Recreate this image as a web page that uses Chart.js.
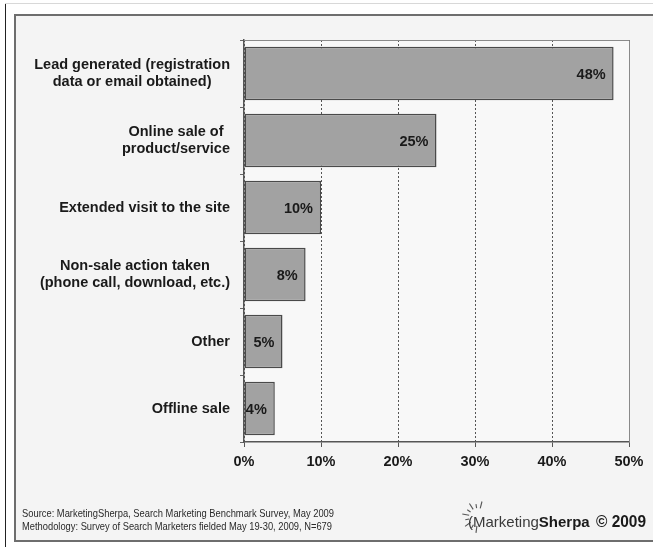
<!DOCTYPE html>
<html>
<head>
<meta charset="utf-8">
<script src="https://cdn.jsdelivr.net/npm/chart.js@4/dist/chart.umd.min.js"></script>
<style>
  html, body { margin: 0; padding: 0; background: #ffffff; }
  #wrap { width: 653px; height: 547px; position: relative; }
</style>
</head>
<body>
<div id="wrap"><canvas id="c" width="653" height="547"></canvas></div>
<script>
// Survey answers: what counts as a conversion
const categories = [
  ["Lead generated (registration", "data or email obtained)"],
  ["Online sale of", "product/service"],
  ["Extended visit to the site"],
  ["Non-sale action taken", "(phone call, download, etc.)"],
  ["Other"],
  ["Offline sale"]
];
const shares = [48, 25, 10, 8, 5, 4];
const xTicks = [0, 10, 20, 30, 40, 50];
const sourceLines = [
  "Source: MarketingSherpa, Search Marketing Benchmark Survey, May 2009",
  "Methodology: Survey of Search Marketers fielded May 19-30, 2009, N=679"
];

const FONT = "'Liberation Sans', Arial, Helvetica, sans-serif";
const LABEL_SIZE = 14.5;

const framePlugin = {
  id: 'frame',
  beforeDraw(chart) {
    const ctx = chart.ctx;
    ctx.save();
    ctx.fillStyle = '#ffffff';
    ctx.fillRect(0, 0, chart.width, chart.height);
    // outer thin rule
    ctx.strokeStyle = '#222';
    ctx.lineWidth = 1;
    ctx.beginPath();
    ctx.moveTo(5.5, 3); ctx.lineTo(5.5, 547);
    ctx.stroke();
    ctx.strokeStyle = '#d8d8d8';
    ctx.beginPath();
    ctx.moveTo(5, 3.5); ctx.lineTo(653, 3.5);
    ctx.stroke();
    // panel
    ctx.fillStyle = '#f4f4f4';
    ctx.fillRect(15, 15, 660, 526);
    ctx.strokeStyle = '#6e6e6e';
    ctx.lineWidth = 2;
    ctx.strokeRect(15, 15, 660, 526);
    // plot background
    const a = chart.chartArea;
    ctx.fillStyle = '#f8f8f8';
    ctx.fillRect(a.left, a.top, a.right - a.left, a.bottom - a.top);
    ctx.restore();
  },
  afterDraw(chart) {
    const ctx = chart.ctx;
    const a = chart.chartArea;
    const y = chart.scales.y;
    ctx.save();
    // top and right edges of the plot
    ctx.strokeStyle = '#8a8a8a';
    ctx.lineWidth = 1;
    ctx.beginPath();
    ctx.moveTo(a.left, a.top + 0.5); ctx.lineTo(a.right + 0.5, a.top + 0.5);
    ctx.lineTo(a.right + 0.5, a.bottom);
    ctx.stroke();

    // category labels: lines centred on each other, block right-aligned
    ctx.font = 'bold ' + LABEL_SIZE + 'px ' + FONT;
    ctx.fillStyle = '#1a1a1a';
    ctx.textAlign = 'center';
    ctx.textBaseline = 'middle';
    const lh = 17;
    categories.forEach((lines, i) => {
      const cy = y.getPixelForValue(i);
      const w = Math.max(...lines.map(l => ctx.measureText(l).width));
      const cx = 230 - w / 2;
      lines.forEach((l, k) => {
        ctx.fillText(l, cx, cy + (k - (lines.length - 1) / 2) * lh);
      });
    });

    // value labels at the bar ends
    const meta = chart.getDatasetMeta(0);
    ctx.textAlign = 'right';
    meta.data.forEach((bar, i) => {
      ctx.fillText(shares[i] + '%', bar.x - 8, bar.y + 1);
    });

    // footer
    ctx.textAlign = 'left';
    ctx.textBaseline = 'alphabetic';
    ctx.font = '11px ' + FONT;
    ctx.fillStyle = '#2a2a2a';
    ctx.fillText(sourceLines[0], 22, 517, 312);
    ctx.fillText(sourceLines[1], 22, 530, 310);

    // logo: sun rays around an open bracket
    const ox = 478, oy = 517;
    ctx.strokeStyle = '#555';
    ctx.lineWidth = 1.1;
    for (let k = 0; k < 9; k++) {
      const ang = Math.PI * (0.42 + k * 0.13);
      const r1 = 9, r2 = (k % 2) ? 13 : 16;
      ctx.beginPath();
      ctx.moveTo(ox + Math.cos(ang) * r1, oy - Math.sin(ang) * r1);
      ctx.lineTo(ox + Math.cos(ang) * r2, oy - Math.sin(ang) * r2);
      ctx.stroke();
    }
    ctx.font = '15px ' + FONT;
    ctx.fillStyle = '#3a3a3a';
    ctx.fillText('(', 468, 527);
    let lx = 473;
    ctx.fillText('Marketing', lx, 527);
    lx += ctx.measureText('Marketing').width;
    ctx.font = 'bold 15px ' + FONT;
    ctx.fillStyle = '#1a1a1a';
    ctx.fillText('Sherpa', lx, 527);
    ctx.font = 'bold 16px ' + FONT;
    ctx.fillText('\u00a9 2009', 596, 527, 50);
    ctx.restore();
  }
};

new Chart(document.getElementById('c'), {
  type: 'bar',
  data: {
    labels: categories,
    datasets: [{
      data: shares,
      backgroundColor: '#a2a2a2',
      borderColor: '#4a4a4a',
      borderWidth: 1.5,
      borderSkipped: false,
      barPercentage: 0.8,
      categoryPercentage: 1
    }]
  },
  options: {
    indexAxis: 'y',
    responsive: false,
    animation: false,
    devicePixelRatio: 1,
    layout: { padding: { top: 40, right: 24, left: 0, bottom: 0 } },
    plugins: { legend: { display: false }, tooltip: { enabled: false } },
    scales: {
      x: {
        min: 0, max: 50,
        afterBuildTicks(scale) { scale.ticks = xTicks.map(v => ({ value: v })); },
        afterFit(scale) { scale.height = 105; },
        grid: {
          color: '#555',
          lineWidth: 1,
          tickColor: '#555',
          tickLength: 5,
          tickBorderDash: [],
          drawOnChartArea: true
        },
        border: { display: true, color: '#555', width: 1.5, dash: [2, 2] },
        ticks: {
          callback: v => v + '%',
          font: { family: FONT, size: LABEL_SIZE, weight: 'bold' },
          color: '#1a1a1a',
          padding: 6,
          maxRotation: 0
        }
      },
      y: {
        offset: true,
        afterFit(scale) { scale.width = 244; },
        grid: {
          offset: true,
          drawOnChartArea: false,
          drawTicks: true,
          tickLength: 4,
          tickColor: '#666'
        },
        border: { display: true, color: '#555', width: 1.5 },
        ticks: { display: false }
      }
    }
  },
  plugins: [framePlugin]
});
</script>
</body>
</html>
